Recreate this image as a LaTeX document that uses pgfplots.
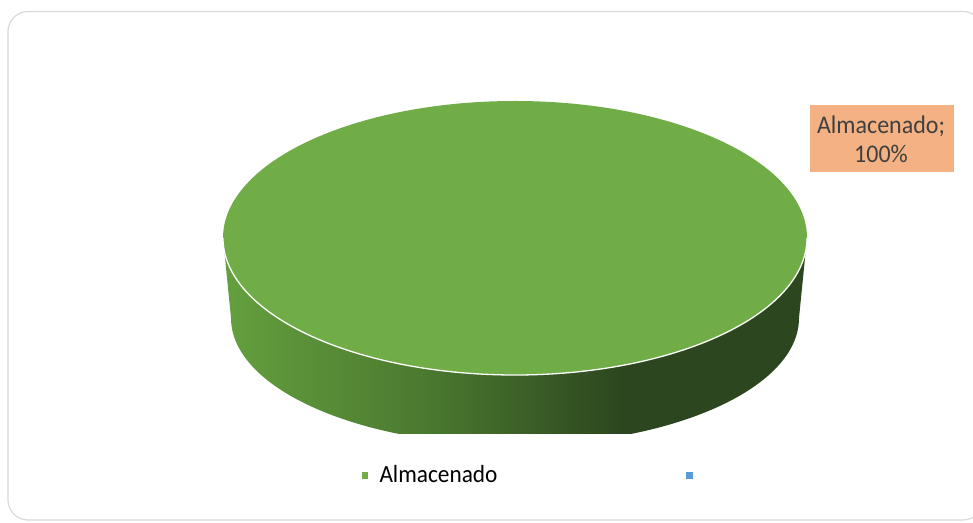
\documentclass[border=0pt]{standalone}
\usepackage{pgfplots}
\usepackage{pgfplotstable}
\pgfplotsset{compat=1.18}
\usepackage{fontspec}
\setmainfont{Carlito}
\definecolor{topgreen}{HTML}{70AD47}
\definecolor{sideA}{HTML}{64A03E}
\definecolor{sideB}{HTML}{4C7A30}
\definecolor{sideC}{HTML}{2C4720}
\definecolor{labelbg}{HTML}{F4B183}
\definecolor{labeltxt}{HTML}{404040}
\definecolor{blueleg}{HTML}{5B9BD5}
\definecolor{framecol}{HTML}{D9D9D9}
\pgfdeclarehorizontalshading{sideshade}{100bp}{color(0bp)=(sideA); color(25bp)=(sideA); color(42bp)=(sideB); color(59bp)=(sideC); color(100bp)=(sideC)}
\pgfplotstableread{
label value
Almacenado 100
Otro 0
}\piedata
\pgfplotstablegetelem{0}{value}\of\piedata
\let\valA\pgfplotsretval
\begin{document}
\begin{tikzpicture}
\begin{axis}[width=973pt, height=522pt, scale only axis,
  xmin=0, xmax=973, ymin=0, ymax=522, axis lines=none, clip=false]
% frame
\draw[framecol, line width=1.2pt, rounded corners=20pt] (axis cs:8,2) rectangle (axis cs:983,510.5);
% side of the 3D pie
\begin{scope}
\clip (axis cs:0,89) rectangle (axis cs:973,522);
\shade[shading=sideshade] (axis cs:223,284) -- (axis cs:231,204)
  arc[start angle=180, end angle=360, x radius=284, y radius=127]
  -- (axis cs:807,284)
  arc[start angle=360, end angle=180, x radius=292, y radius=137] -- cycle;
\end{scope}
% top face: Almacenado = 100%
\fill[topgreen] (axis cs:515,284) ellipse [x radius=292, y radius=137];
\draw[white, line width=1.3pt] (axis cs:223,284) arc[start angle=180, end angle=360, x radius=292, y radius=137];
% data label
\fill[labelbg] (axis cs:810,350) rectangle (axis cs:954,417);
\node[anchor=base, inner sep=0pt, text=labeltxt, font=\fontsize{24}{29}\selectfont]
  at (axis cs:881,388.7) {\scalebox{1}[1.06]{Almacenado;}};
\node[anchor=base, inner sep=0pt, text=labeltxt, font=\fontsize{24}{29}\selectfont]
  at (axis cs:881,359.3) {\scalebox{1}[1.06]{\valA\%}};
% legend
\fill[topgreen] (axis cs:361.7,43) rectangle (axis cs:368.3,49.7);
\node[anchor=base west, inner sep=0pt, font=\fontsize{23.3}{27}\selectfont] at (axis cs:379.3,39.3) {\scalebox{1}[1.06]{Almacenado}};
\fill[blueleg] (axis cs:686,43) rectangle (axis cs:693,49.7);
\end{axis}
\pgfresetboundingbox
\path[use as bounding box] (0,0) rectangle (973pt,522pt);
\end{tikzpicture}
\end{document}
